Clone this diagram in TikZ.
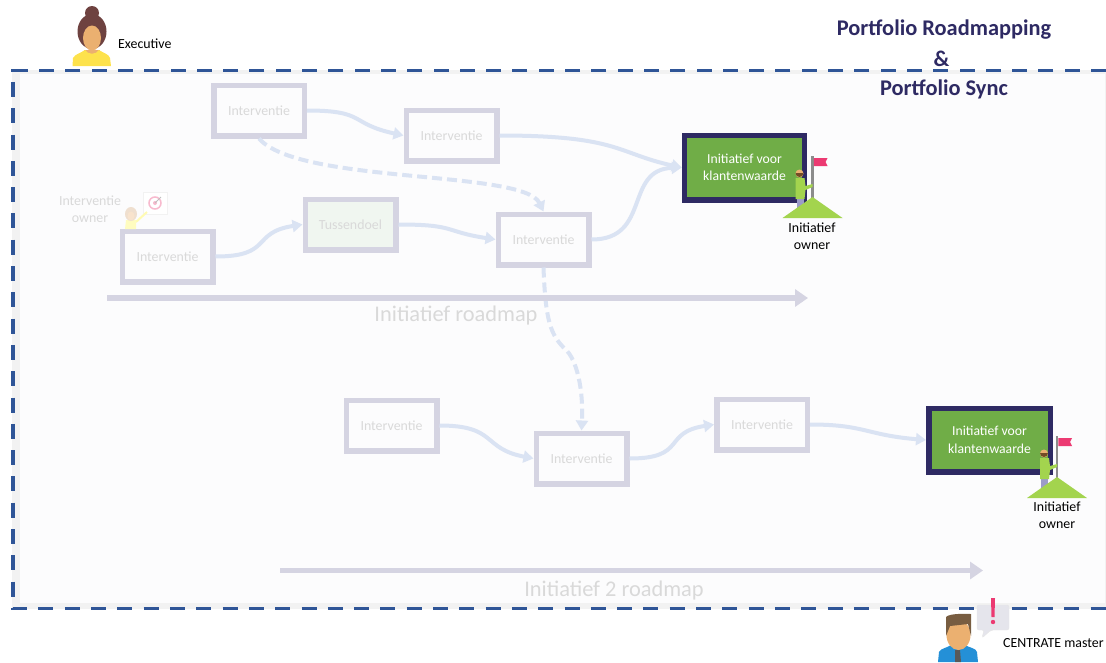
\documentclass[tikz,border=0pt]{standalone}
\usepackage{fontspec}
\setmainfont{Carlito}
\usetikzlibrary{arrows.meta}
\definecolor{framegray}{HTML}{F2F2F2}
\definecolor{panelgray}{HTML}{FCFCFD}
\definecolor{dashblue}{HTML}{2F5597}
\definecolor{boxgray}{HTML}{D5D4E2}
\definecolor{fadetext}{HTML}{D9D9D9}
\definecolor{flowblue}{HTML}{DAE3F3}
\definecolor{indigo}{HTML}{2E2A63}
\definecolor{goalgreen}{HTML}{70AD47}
\definecolor{hillgreen}{HTML}{A3D44E}
\definecolor{skin}{HTML}{EBB070}
\definecolor{flagpink}{HTML}{EC3A72}
\definecolor{hairbrown}{HTML}{6E4240}
\tikzset{
    interbox/.style={draw=boxgray, line width=5.5pt, minimum width=90.5pt, minimum height=50.5pt, text=fadetext, font=\fontsize{13.9}{17.5}\selectfont},
    goalbox/.style={draw=indigo, line width=5.5pt, fill=goalgreen, text=white, align=center, font=\fontsize{13.7}{17.5}\selectfont},
    smalltext/.style={align=center, font=\fontsize{13.9}{17.5}\selectfont},
    roadtext/.style={text=fadetext, font=\fontsize{22.4}{25}\selectfont},
    titletext/.style={text=indigo, font=\fontsize{22.4}{25}\selectfont\bfseries},
    flow/.style={draw=flowblue, line width=4pt, -{Triangle[length=10pt,width=12pt]}},
    dashflow/.style={flow, dash pattern=on 10pt off 5pt},
    roadarrow/.style={draw=boxgray, line width=5.5pt, -{Triangle[length=13pt,width=17pt]}},
    flagowner/.pic={
        \fill[gray!90] (-1.2,-62) rectangle (1.4,-16);
        \fill[flagpink] (1.4,-60) -- (15,-60) -- (13,-56) -- (15,-52) -- (1.4,-52) -- cycle;
        \fill[gray!70!blue!60] (-16,-20) rectangle (-9,-9);
        \fill[hillgreen] (-30,0) -- (0,-21) -- (30,0) -- cycle;
        \fill[hillgreen] (-17,-40) -- (-8,-40) -- (-7,-32) -- (0,-34) -- (0,-31) -- (-7,-28) -- (-8,-19) -- (-17,-19) -- cycle;
        \fill[skin] (-13,-44.5) circle (4pt);
        \fill[brown!60!black] (-17,-45) arc (180:0:4) -- cycle;
    }
}
\begin{document}
\begin{tikzpicture}[x=1pt,y=-1pt]
    \useasboundingbox (0,0) rectangle (1106,662);

    \fill[framegray] (12,70) rectangle (1106,609);
    \fill[panelgray] (20,74) rectangle (1105,603);

    \node[interbox] (interA) at (259,110.5) {Interventie};
    \node[interbox] (interB) at (451.5,135.5) {Interventie};
    \node[interbox] (interC) at (167.5,256.5) {Interventie};
    \node[interbox, fill=green!40!black!6] (tussen) at (350.5,224.5) {Tussendoel};
    \node[interbox] (interD) at (543.5,239.5) {Interventie};
    \node[interbox] (interE) at (391.5,425.5) {Interventie};
    \node[interbox] (interF) at (581.5,458.5) {Interventie};
    \node[interbox] (interG) at (762,424.5) {Interventie};

    \node[goalbox, minimum width=120pt, minimum height=64.5pt] (goalA) at (744.5,167.5) {Initiatief voor\\klantenwaarde};
    \node[goalbox, minimum width=121.5pt, minimum height=63.5pt] (goalB) at (989.5,440) {Initiatief voor\\klantenwaarde};

    \draw[flow] (interA.east) .. controls +(60,0) and +(-55,-12) .. (interB.west);
    \draw[flow] (interB.east) .. controls +(120,0) and +(-65,-14) .. (goalA.west);
    \draw[flow] (interC.east) .. controls +(58,0) and +(-52,8) .. (tussen.west);
    \draw[flow] (tussen.east) .. controls +(58,0) and +(-52,-8) .. (interD.west);
    \draw[flow] (interD.east) .. controls +(60,0) and +(-58,2) .. (goalA.west);
    \draw[flow] (interE.east) .. controls +(58,0) and +(-52,-10) .. (interF.west);
    \draw[flow] (interF.east) .. controls +(58,0) and +(-52,8) .. (interG.west);
    \draw[flow] (interG.east) .. controls +(55,0) and +(-60,-5) .. (goalB.west);

    \coordinate (bendA) at (565,349);
    \draw[dashflow] (interA.south) .. controls +(40,46) and +(-20,-42) .. (interD.north);
    \draw[dashflow] (interD.south) .. controls +(2,55) and +(-14,-14) .. (bendA) .. controls +(12,10) and +(2,-40) .. (interF.north);

    \coordinate (roadstartA) at (107,298);
    \coordinate (roadendA) at (808,298);
    \coordinate (roadstartB) at (280,570.5);
    \coordinate (roadendB) at (983,570.5);
    \draw[roadarrow] (roadstartA) -- (roadendA);
    \draw[roadarrow] (roadstartB) -- (roadendB);
    \node[roadtext] (roadlabelA) at (456,315.5) {Initiatief roadmap};
    \node[roadtext] (roadlabelB) at (614,590.5) {Initiatief 2 roadmap};

    \pic at (812.5,218) {flagowner};
    \pic at (1057,498) {flagowner};
    \node[smalltext] (ownerA) at (812,236) {Initiatief\\owner};
    \node[smalltext] (ownerB) at (1057,515) {Initiatief\\owner};

    % interventie owner
    \node[smalltext, text=fadetext] (interowner) at (90,209) {Interventie\\owner};
    \draw[draw=black!5, fill=white] (143,192) rectangle (167,214);
    \draw[draw=flagpink!35, line width=1.5pt] (155,203) circle (6pt);
    \fill[flagpink!35] (155,203) circle (2pt);
    \draw[draw=black!25, line width=1pt] (155,203) -- (161,197);
    \draw[draw=yellow!30, line width=2pt] (136,222) -- (147,212);
    \fill[yellow!25] (125,229) -- (126,220) -- (136,220) -- (136,229) -- cycle;
    \fill[brown!25] (131,214) ellipse (6pt and 7pt);
    \fill[skin!35] (131,216) ellipse (3.5pt and 4.5pt);

    % executive
    \fill[hairbrown] (92,13) circle (7pt);
    \fill[hairbrown] (92,31.5) ellipse (14.5pt and 17.5pt);
    \fill[skin] (84,50) -- (100,50) -- (100,56) -- (84,56) -- cycle;
    \fill[skin] (92,38) ellipse (9pt and 12.5pt);
    \fill[yellow!75!orange!70] (72.5,66) -- (73,58) .. controls (75,54) and (81,53) .. (85,50) .. controls (88,55) and (96,55) .. (99,50) .. controls (103,53) and (109,54) .. (110,58) -- (111,66) -- cycle;
    \node[smalltext, anchor=west, inner sep=0pt] (executive) at (118,43.5) {Executive};

    \draw[draw=dashblue, line width=3.7pt, dash pattern=on 15pt off 11.3pt] (1106,70.5) -- (12.8,70.5) -- (12.8,608.5) -- (1106,608.5);

    % centrate master
    \fill[cyan!70!blue!90] (938,662) -- (939,652) .. controls (941,648) and (947,648) .. (951,645) -- (965,645) .. controls (970,648) and (976,648) .. (977,652) -- (978,662) -- cycle;
    \fill[black!65] (955,650) -- (960,650) -- (961,662) -- (955,662) -- cycle;
    \fill[skin] (958.5,635) ellipse (12pt and 15pt);
    \fill[brown!50!black!85] (946,636) -- (946,617) .. controls (950,613) and (965,614) .. (971,614) -- (971,636) -- (968,624) -- (950,626) -- cycle;
    \draw[draw=black!10, fill=blue!25!black!10!white, rounded corners=2pt] (977,605) -- (1009,605) -- (1009,630) -- (991,630) -- (982,638) -- (984,630) -- (977,630) -- cycle;
    \fill[flagpink] (991,598) -- (995,598) -- (994.5,617) -- (991.5,617) -- cycle;
    \fill[flagpink] (993,622) circle (2.2pt);
    \node[smalltext, anchor=west, inner sep=0pt] (master) at (1003,643.5) {CENTRATE master};

    \node[titletext] (titleA) at (944,30) {Portfolio Roadmapping};
    \node[titletext] (titleB) at (941.5,59) {\&};
    \node[titletext] (titleC) at (944,89) {Portfolio Sync};
\end{tikzpicture}
\end{document}
